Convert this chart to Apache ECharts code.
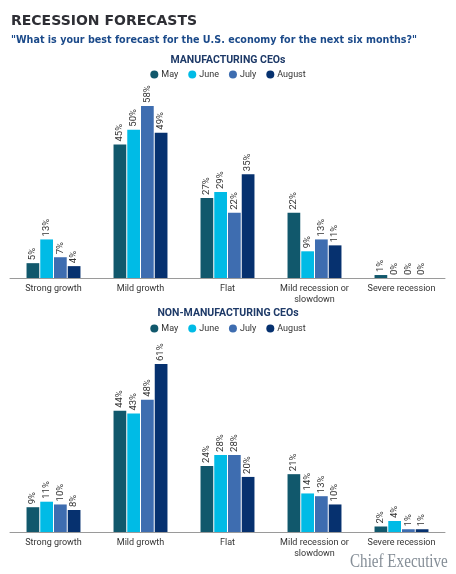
<!DOCTYPE html>
<html>
<head>
<meta charset="utf-8">
<script src="https://cdn.jsdelivr.net/npm/echarts@6/dist/echarts.min.js"></script>
<style>
  html, body { margin: 0; padding: 0; background: #fff; }
  #main { width: 456px; height: 574px; }
</style>
</head>
<body>
<div id="main"></div>
<script>
// data
let categories = ["Strong growth", "Mild growth", "Flat", "Mild recession or\nslowdown", "Severe recession"]
let months = ["May", "June", "July", "August"]
let colors = ["#11586c", "#00bbe6", "#3e6db0", "#06316f"]

let mfgMay = [5, 45, 27, 22, 1]
let mfgJune = [13, 50, 29, 9, 0]
let mfgJuly = [7, 58, 22, 13, 0]
let mfgAugust = [4, 49, 35, 11, 0]

let nonMay = [9, 44, 24, 21, 2]
let nonJune = [11, 43, 28, 14, 4]
let nonJuly = [10, 48, 28, 13, 1]
let nonAugust = [8, 61, 20, 10, 1]

let mfg = [mfgMay, mfgJune, mfgJuly, mfgAugust]
let non = [nonMay, nonJune, nonJuly, nonAugust]

var myChart = echarts.init(document.getElementById('main'))

const font = 'Roboto, "Noto Sans", sans-serif'
const heavy = '"DejaVu Sans", sans-serif'

function makeSeries(arr, idx) {
  return arr.map((d, i) => ({
    name: months[i],
    type: 'bar',
    xAxisIndex: idx,
    yAxisIndex: idx,
    data: d,
    barGap: '8%',
    barCategoryGap: '38%',
    itemStyle: { color: colors[i] },
    label: {
      show: true,
      position: 'top',
      rotate: 90,
      align: 'left',
      verticalAlign: 'middle',
      distance: 3,
      formatter: '{c}%',
      fontSize: 9.5,
      fontFamily: font,
      color: '#333'
    }
  }))
}

function xAxis(idx) {
  return {
    type: 'category',
    gridIndex: idx,
    data: categories,
    axisLine: { lineStyle: { color: '#9a9a9a' } },
    axisTick: { show: false },
    axisLabel: { interval: 0, fontSize: 9, fontFamily: font, color: '#333', margin: 5, lineHeight: 11 }
  }
}

function yAxis(idx, max) {
  return { type: 'value', gridIndex: idx, min: 0, max: max, show: false, splitLine: { show: false } }
}

let legendBase = {
  data: months,
  icon: 'circle',
  itemWidth: 8,
  itemHeight: 8,
  itemGap: 10,
  left: 'center',
  textStyle: { fontSize: 9, fontFamily: font, color: '#333', padding: [0, 0, 0, -2] }
}

var option = {
  animation: false,
  textStyle: { fontFamily: font },
  title: [
    {
      text: 'RECESSION FORECASTS',
      left: 6, top: 9,
      textStyle: { fontSize: 14, fontWeight: 'bold', fontFamily: heavy, color: '#2e2f35' }
    },
    {
      text: '"What is your best forecast for the U.S. economy for the next six months?"',
      left: 6, top: 30,
      textStyle: { fontSize: 9.6, fontWeight: 'bold', fontFamily: heavy, color: '#1b4a8a' }
    },
    {
      text: 'MANUFACTURING CEOs',
      left: 'center', top: 50,
      textStyle: { fontSize: 10.5, fontWeight: 'bold', fontFamily: font, color: '#1e3a68' }
    },
    {
      text: 'NON-MANUFACTURING CEOs',
      left: 'center', top: 303,
      textStyle: { fontSize: 10.5, fontWeight: 'bold', fontFamily: font, color: '#1e3a68' }
    }
  ],
  legend: [
    Object.assign({ top: 65 }, legendBase),
    Object.assign({ top: 319 }, legendBase)
  ],
  grid: [
    { left: 10, right: 11, top: 100, height: 178 },
    { left: 10, right: 11, top: 353, height: 179 }
  ],
  xAxis: [xAxis(0), xAxis(1)],
  yAxis: [yAxis(0, 60), yAxis(1, 65)],
  series: makeSeries(mfg, 0).concat(makeSeries(non, 1)),
  graphic: [
    {
      type: 'text',
      x: 350,
      y: 553,
      scaleX: 0.84,
      style: { text: 'Chief Executive', fontSize: 18, fontFamily: '"Liberation Serif", "DejaVu Serif", serif', fill: '#858e97' }
    }
  ]
}

myChart.setOption(option)
</script>
</body>
</html>
